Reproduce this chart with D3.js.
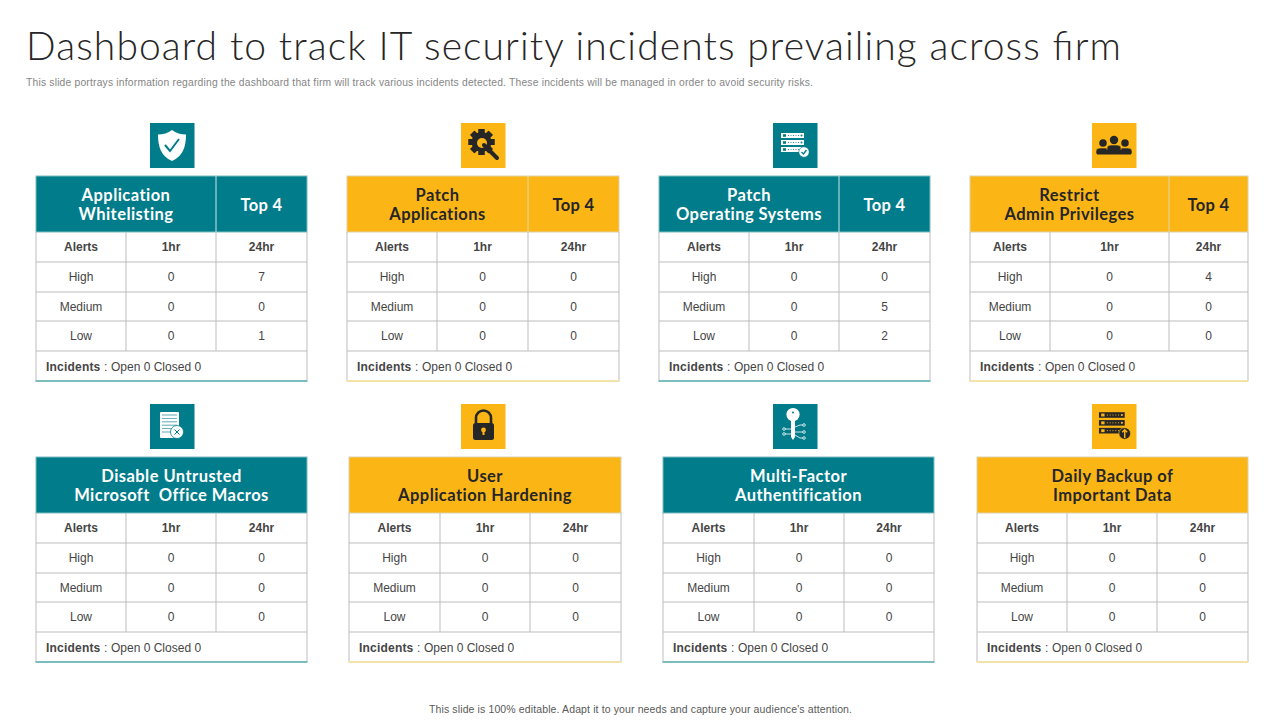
<!DOCTYPE html>
<html><head><meta charset="utf-8">
<script src="https://cdn.jsdelivr.net/npm/d3@7"></script>
<style>html,body{margin:0;padding:0;background:#fff}svg{display:block}</style>
</head><body><svg id="c" width="1280" height="720"></svg>
<script>
const titleText = "Dashboard to track IT security incidents prevailing across firm";
const subtitleText = "This slide portrays information regarding the dashboard that firm will track various incidents detected. These incidents will be managed in order to avoid security risks.";
const footerText = "This slide is 100% editable. Adapt it to your needs and capture your audience's attention.";

const panelTitles = [
  ["Application","Whitelisting"],["Patch","Applications"],["Patch","Operating Systems"],["Restrict","Admin Privileges"],
  ["Disable Untrusted","Microsoft  Office Macros"],["User","Application Hardening"],["Multi-Factor","Authentification"],["Daily Backup of","Important Data"]
];
const topLabel = "Top 4";
const columnLabels = ["Alerts","1hr","24hr"];
const severities = ["High","Medium","Low"];
const values1hr = [[0,0,0],[0,0,0],[0,0,0],[0,0,0],[0,0,0],[0,0,0],[0,0,0],[0,0,0]];
const values24hr = [[7,0,1],[0,0,0],[0,5,2],[4,0,0],[0,0,0],[0,0,0],[0,0,0],[0,0,0]];
const openCounts = [0,0,0,0,0,0,0,0];
const closedCounts = [0,0,0,0,0,0,0,0];
const iconKinds = ["shield","gear","servers","people","doc","lock","key","backup"];

// layout (kept apart from the data)
const colEdges = [[36,126,216,307],[347,437,528,619],[659,749,839,930],[970,1050,1169,1248],
                  [36,126,216,307],[349,440,530,621],[663,754,844,934],[977,1067,1157,1248]];
const iconX = [150,461,773,1092,150,461,773,1092];
const panelTop = [176,176,176,176,457,457,457,457];
const iconTop = [123,123,123,123,404,404,404,404];
const rowOffsets = [0,56,86,116,145,175,205];
const TEAL="#007c8a", YEL="#fbb616", INK="#262626", GRID="#bdbdbd", TXT="#454545";
const SANS="'Liberation Sans',Arial,sans-serif", HEAD="Lato,'Open Sans',sans-serif";

const svg = d3.select("#c");
svg.append("rect").attr("width",1280).attr("height",720).attr("fill","#fff");
svg.append("text").attr("x",26).attr("y",60).attr("font-family",HEAD).attr("font-size",39).attr("font-weight",300)
  .attr("fill","#262626").attr("textLength",1095).attr("lengthAdjust","spacing").text(titleText);
svg.append("text").attr("x",26).attr("y",86).attr("font-family",SANS).attr("font-size",10.3)
  .attr("fill","#858585").attr("textLength",787).attr("lengthAdjust","spacing").text(subtitleText);
svg.append("text").attr("x",429).attr("y",713).attr("font-family",SANS).attr("font-size",10.5)
  .attr("fill","#595959").attr("textLength",423).attr("lengthAdjust","spacing").text(footerText);

const icons = {
  shield(g,fg,bg){
    g.append("path").attr("d","M22 7 C26 10 31 11.5 36 11.5 C36 24 33 33 22 38 C11 33 8 24 8 11.5 C13 11.5 18 10 22 7Z").attr("fill",fg);
    g.append("path").attr("d","M15 22 L20 28 L29 16").attr("fill","none").attr("stroke",bg).attr("stroke-width",2);
  },
  gear(g,fg,bg){
    d3.range(8).forEach(i=>g.append("rect").attr("x",17.5).attr("y",6).attr("width",6).attr("height",26).attr("fill",fg)
      .attr("transform",`rotate(${i*45} 20.5 19)`));
    g.append("circle").attr("cx",20.5).attr("cy",19).attr("r",10).attr("fill",fg);
    g.append("circle").attr("cx",21).attr("cy",20).attr("r",5).attr("fill",bg);
    g.append("path").attr("d","M23 22 L36 35").attr("stroke",fg).attr("stroke-width",4).attr("stroke-linecap","round");
  },
  servers(g,fg,bg){ rack(g,fg,bg,"check"); },
  backup(g,fg,bg){ rack(g.append("g").attr("transform","translate(-2,-3) scale(1.12)"),fg,bg,"up"); },
  people(g,fg,bg){
    [[11,20,.9],[33,20,.9],[22,17,1]].forEach(([x,y,s])=>{
      g.append("circle").attr("cx",x).attr("cy",y).attr("r",4.2*s).attr("fill",fg);
      g.append("path").attr("d",`M${x-7} ${y+11} V${y+8} Q${x-7} ${y+5} ${x-3} ${y+5} H${x+3} Q${x+7} ${y+5} ${x+7} ${y+8} V${y+11}Z`)
        .attr("fill",fg).attr("stroke",bg).attr("stroke-width",.6);
    });
    g.append("rect").attr("x",5).attr("y",27).attr("width",34).attr("height",4.5).attr("fill",fg);
  },
  doc(g,fg,bg){
    g.append("rect").attr("x",10).attr("y",8).attr("width",19).attr("height",26).attr("rx",1).attr("fill",fg);
    d3.range(6).forEach(i=>g.append("line").attr("x1",12).attr("x2",27).attr("y1",11+i*3.4).attr("y2",11+i*3.4).attr("stroke",bg).attr("stroke-width",.8).attr("opacity",.8));
    g.append("circle").attr("cx",27).attr("cy",28).attr("r",6.5).attr("fill",fg).attr("stroke",bg).attr("stroke-width",.8);
    g.append("path").attr("d","M24.5 25.5 L29.5 30.5 M29.5 25.5 L24.5 30.5").attr("stroke",bg).attr("stroke-width",1);
  },
  lock(g,fg,bg){
    g.append("path").attr("d","M15 20 V14 A7.5 7.5 0 0 1 30 14 V20").attr("fill","none").attr("stroke",fg).attr("stroke-width",2.6);
    g.append("rect").attr("x",12).attr("y",19).attr("width",21).attr("height",17).attr("rx",2.5).attr("fill",fg);
    g.append("circle").attr("cx",22.5).attr("cy",26).attr("r",2.4).attr("fill",bg);
    g.append("rect").attr("x",21.5).attr("y",26).attr("width",2).attr("height",5).attr("fill",bg);
  },
  key(g,fg,bg){
    g.append("circle").attr("cx",20).attr("cy",10.5).attr("r",6.6).attr("fill",fg);
    g.append("circle").attr("cx",20).attr("cy",8.5).attr("r",1).attr("fill",bg);
    g.append("path").attr("d","M18 15 H22 V33 L20 36 L18 33Z").attr("fill",fg);
    ["M22 23 L27 21 H30","M22 28 H30","M22 31 L27 34 H30","M18 25 H12","M18 30 H12"].forEach(d=>g.append("path").attr("d",d).attr("fill","none").attr("stroke",fg).attr("stroke-width",.8));
    [[31,21],[31,28],[31,34],[11,25],[11,30]].forEach(([x,y])=>g.append("circle").attr("cx",x).attr("cy",y).attr("r",1.3).attr("fill","none").attr("stroke",fg).attr("stroke-width",.8));
  }
};
function rack(g,fg,bg,badge){
  [10,17,24].forEach(y=>{
    g.append("rect").attr("x",8).attr("y",y).attr("width",23).attr("height",5).attr("fill",fg);
    g.append("line").attr("x1",15).attr("x2",26).attr("y1",y+2.5).attr("y2",y+2.5).attr("stroke",bg).attr("stroke-width",.8).attr("stroke-dasharray","1 1.5");
    g.append("circle").attr("cx",28.5).attr("cy",y+2.5).attr("r",1).attr("fill",bg);
    g.append("rect").attr("x",10).attr("y",y+1.2).attr("width",3).attr("height",2.6).attr("fill",bg);
  });
  g.append("circle").attr("cx",31).attr("cy",29).attr("r",5.2).attr("fill",fg).attr("stroke",bg).attr("stroke-width",.6);
  const d = badge==="check" ? "M28.5 29 L30.5 31 L33.5 27" : "M31 33 V26 M28.8 28 L31 25.8 L33.2 28";
  g.append("path").attr("d",d).attr("fill","none").attr("stroke",bg).attr("stroke-width",1.3);
}

panelTitles.forEach((title,p)=>{
  const teal = p%2===0;
  const fill = teal?TEAL:YEL, ink = teal?"#fff":INK;
  const edges = colEdges[p];
  const x = d3.scaleLinear().domain([0,1,2,3]).range(edges);
  const y = d3.scaleLinear().domain(d3.range(rowOffsets.length)).range(rowOffsets.map(o=>panelTop[p]+o));
  const g = svg.append("g");

  const ic = g.append("g").attr("transform",`translate(${iconX[p]},${iconTop[p]})`);
  ic.append("rect").attr("width",44.5).attr("height",45).attr("fill",fill);
  icons[iconKinds[p]](ic,teal?"#fff":INK,fill);

  // header band
  g.append("rect").attr("x",x(0)).attr("y",y(0)).attr("width",x(3)-x(0)).attr("height",y(1)-y(0)).attr("fill",fill)
    .attr("stroke",teal?"#7dbcbf":"#ddd0a8").attr("stroke-width",1);
  const twoPart = p<4;
  if(twoPart){
    g.append("line").attr("x1",x(2)).attr("x2",x(2)).attr("y1",y(0)).attr("y2",y(1)).attr("stroke",teal?"#cfe5e8":"#e3d5a8").attr("stroke-width",1);
    g.append("text").attr("x",(x(2)+x(3))/2).attr("y",y(0)+34.5).attr("text-anchor","middle").attr("font-family",HEAD).attr("font-weight",700).attr("font-size",16.5).attr("letter-spacing",.3).attr("fill",ink).text(topLabel);
  }
  const cx = twoPart?(x(0)+x(2))/2:(x(0)+x(3))/2;
  title.forEach((t,i)=>g.append("text").attr("x",cx).attr("y",y(0)+25+i*19).attr("text-anchor","middle").attr("font-family",HEAD).attr("font-weight",700).attr("font-size",16.5).attr("letter-spacing",.45).attr("fill",ink).attr("xml:space","preserve").text(t));

  // body cells
  const rows = [columnLabels].concat(severities.map((s,i)=>[s,values1hr[p][i],values24hr[p][i]]));
  rows.forEach((row,r)=>row.forEach((v,c)=>{
    g.append("text").attr("x",(x(c)+x(c+1))/2).attr("y",(y(r+1)+y(r+2))/2+4.2).attr("text-anchor","middle")
      .attr("font-family",SANS).attr("font-size",12).attr("font-weight",r===0?700:400).attr("fill",TXT).text(v);
  }));
  // grid
  [2,3,4,5].forEach(r=>g.append("line").attr("x1",x(0)).attr("x2",x(3)).attr("y1",y(r)).attr("y2",y(r)).attr("stroke",GRID));
  [1,2].forEach(c=>g.append("line").attr("x1",x(c)).attr("x2",x(c)).attr("y1",y(1)).attr("y2",y(5)).attr("stroke",GRID));
  [0,3].forEach(c=>g.append("line").attr("x1",x(c)).attr("x2",x(c)).attr("y1",y(1)).attr("y2",y(6)).attr("stroke",GRID));
  g.append("line").attr("x1",x(0)-.5).attr("x2",x(3)+.5).attr("y1",y(6)).attr("y2",y(6)).attr("stroke",teal?"#7dbcbf":"#f3e3ab").attr("stroke-width",2);

  // footer line
  g.append("text").attr("x",x(0)+10).attr("y",y(5)+19.5).attr("font-family",SANS).attr("font-size",12).attr("font-weight",700).attr("letter-spacing",.2).attr("fill",TXT).text("Incidents");
  g.append("text").attr("x",x(0)+68).attr("y",y(5)+19.5).attr("font-family",SANS).attr("font-size",12).attr("fill",TXT).text(":");
  g.append("text").attr("x",x(0)+75).attr("y",y(5)+19.5).attr("font-family",SANS).attr("font-size",12).attr("fill",TXT).text(`Open ${openCounts[p]} Closed ${closedCounts[p]}`);
});
</script></body></html>
